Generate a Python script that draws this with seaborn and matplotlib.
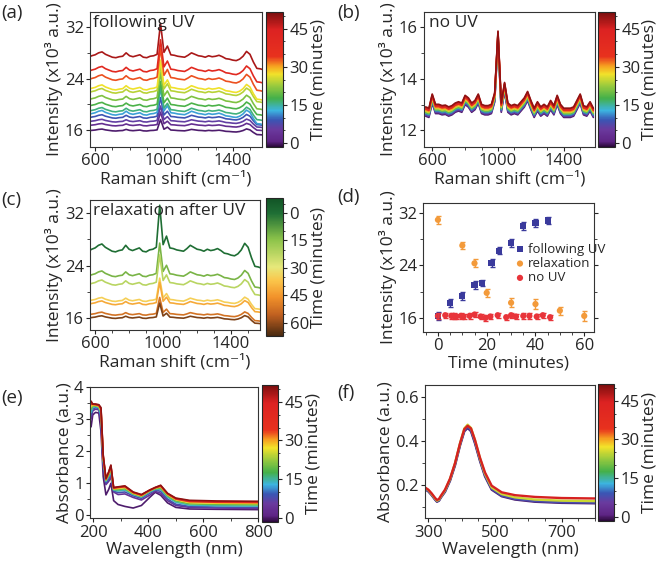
import numpy as np
import pandas as pd
import matplotlib
matplotlib.use('Agg')
import matplotlib.pyplot as plt
import seaborn as sns
from matplotlib.colors import LinearSegmentedColormap, Normalize
from matplotlib.cm import ScalarMappable
from matplotlib.ticker import MultipleLocator

sns.set_style('ticks')
plt.rcParams['font.family'] = ['Open Sans', 'DejaVu Sans']
plt.rcParams['font.size'] = 12
plt.rcParams['axes.linewidth'] = 0.8

# ---------------- dados ----------------
raman_wn = np.arange(560, 1600, 20)

# forma do espectro (a)/(c), relativa a linha de base
perfil_a = [0.0, 0.3, 0.5, 0.9, 1.1, 0.6, 0.3, 0.0, -0.1, 0.1,
            0.2, 0.9, 0.3, 0.1, 0.3, 0.5, 0.0, -0.1, 0.2, 0.3,
            0.6, 7.0, 1.0, 2.3, 0.5, 0.4, 0.2, 0.1, 0.0, 0.4,
            0.9, 0.6, 0.3, 0.2, 0.0, 0.3, 0.1, 0.2, 0.4, 0.1,
            -0.3, -0.4, -0.6, -0.7, -0.4, 0.2, 1.2, 0.6, -1.0, -2.3,
            -2.4, -2.6]
# forma do espectro (b)
perfil_b = [0.25, 0.2, 0.75, 0.35, 0.35, 0.3, 0.32, 0.25, 0.3, 0.4,
            0.45, 0.4, 0.7, 0.6, 0.4, 0.5, 0.75, 0.35, 0.3, 0.3,
            0.35, 0.8, 3.2, 0.4, 1.2, 0.4, 0.3, 0.35, 0.3, 0.45,
            0.6, 0.85, 0.5, 0.2, 0.45, 0.25, 0.35, 0.25, 0.5, 0.3,
            0.7, 0.35, 0.2, 0.2, 0.2, 0.25, 0.5, 0.75, 0.3, 0.25,
            0.45, 0.2]

tempo_a = [0, 3, 6, 9, 12, 16, 18, 21, 24, 27, 33, 40, 48]
base_a = [15.9, 16.7, 17.3, 17.9, 18.4, 18.9, 19.7, 20.7, 21.8, 22.3, 23.8, 25.1, 27.3]
escala_a = [0.25, 0.3, 0.35, 0.45, 0.6, 0.55, 0.55, 0.6, 0.6, 0.65, 0.7, 0.7, 0.75]

tempo_b = [0, 5, 10, 15, 20, 25, 30, 35, 40, 45, 50]
base_b = [12.30, 12.34, 12.38, 12.42, 12.45, 12.49, 12.53, 12.57, 12.60, 12.63, 12.66]

tempo_c = [0, 12, 22, 35, 42, 52, 62]
base_c = [26.2, 22.4, 21.1, 18.6, 18.1, 16.5, 16.0]
escala_c = [1.0, 0.72, 0.65, 0.5, 0.48, 0.38, 0.33]

# (d) intensidade do pico
t_uv = [0, 5, 10, 15, 18, 22, 25, 30, 35, 40, 45]
i_uv = [16.3, 18.3, 19.3, 21.0, 21.3, 24.3, 26.2, 27.4, 29.9, 30.4, 30.8]
e_uv = [0.6, 0.6, 0.6, 0.6, 0.5, 0.6, 0.5, 0.6, 0.6, 0.6, 0.6]
t_rel = [0, 10, 15, 20, 30, 40, 50, 60]
i_rel = [30.9, 27.0, 24.3, 19.8, 18.3, 18.1, 17.1, 16.3]
e_rel = [0.6, 0.6, 0.6, 0.6, 0.7, 0.7, 0.6, 0.7]
t_no = [0, 3, 5.5, 6.5, 7.5, 9.5, 10.5, 13, 15, 17.5, 19.5, 21.5, 24.5, 28, 30, 32, 35, 37.5, 40.5, 43, 46]
i_no = [16.3, 16.4, 16.3, 16.3, 16.2, 16.3, 16.2, 16.3, 16.5, 16.2, 16.0, 16.2, 16.4, 16.1, 16.4, 16.2, 16.3, 16.3, 16.2, 16.4, 16.1]
e_no = [0.4] * len(t_no)

# (e) UV-vis
wl_e = [192, 198, 208, 220, 228, 236, 246, 256, 264, 274, 290, 315, 345, 375, 405, 425, 445, 470, 500, 550, 650, 800]
tempo_e = [0, 4, 8, 14, 20, 28, 34, 42, 50]
abs_e = [
    [2.75, 3.12, 3.2, 3.18, 2.6, 1.2, 0.63, 0.8, 0.99, 0.45, 0.33, 0.27, 0.22, 0.3, 0.55, 0.71, 0.62, 0.38, 0.24, 0.19, 0.18, 0.17],
    [3.0, 3.25, 3.3, 3.28, 2.9, 1.5, 0.95, 1.05, 1.18, 0.72, 0.64, 0.66, 0.55, 0.47, 0.62, 0.74, 0.68, 0.45, 0.3, 0.24, 0.22, 0.21],
    [3.1, 3.3, 3.35, 3.32, 3.0, 1.6, 1.0, 1.12, 1.28, 0.75, 0.7, 0.72, 0.6, 0.52, 0.68, 0.78, 0.74, 0.5, 0.34, 0.27, 0.25, 0.24],
    [3.2, 3.35, 3.38, 3.35, 3.1, 1.7, 1.05, 1.2, 1.35, 0.78, 0.75, 0.78, 0.64, 0.56, 0.72, 0.8, 0.8, 0.56, 0.4, 0.31, 0.29, 0.28],
    [3.3, 3.4, 3.4, 3.38, 3.2, 1.75, 1.08, 1.25, 1.42, 0.8, 0.79, 0.82, 0.66, 0.58, 0.75, 0.82, 0.84, 0.6, 0.44, 0.35, 0.33, 0.32],
    [3.38, 3.43, 3.42, 3.4, 3.25, 1.8, 1.1, 1.3, 1.48, 0.82, 0.83, 0.86, 0.68, 0.6, 0.76, 0.84, 0.88, 0.64, 0.48, 0.39, 0.37, 0.36],
    [3.45, 3.45, 3.44, 3.42, 3.3, 1.82, 1.12, 1.32, 1.52, 0.84, 0.86, 0.88, 0.7, 0.62, 0.77, 0.85, 0.9, 0.66, 0.5, 0.42, 0.40, 0.39],
    [3.5, 3.46, 3.45, 3.43, 3.32, 1.85, 1.13, 1.33, 1.54, 0.85, 0.87, 0.9, 0.71, 0.63, 0.78, 0.86, 0.92, 0.67, 0.52, 0.44, 0.42, 0.41],
    [3.55, 3.46, 3.46, 3.44, 3.35, 1.88, 1.14, 1.35, 1.56, 0.86, 0.88, 0.91, 0.72, 0.64, 0.78, 0.86, 0.93, 0.68, 0.53, 0.46, 0.44, 0.43],
]

# (f) UV-vis sem UV
wl_f = [290, 300, 310, 320, 326, 332, 338, 350, 365, 380, 395, 408, 418, 428, 440, 455, 470, 490, 520, 560, 620, 700, 800]
tempo_f = [0, 8, 25, 45]
abs_f = [
    [0.182, 0.172, 0.155, 0.135, 0.125, 0.13, 0.145, 0.17, 0.22, 0.29, 0.38, 0.445, 0.46, 0.445, 0.39, 0.31, 0.24, 0.18, 0.15, 0.135, 0.125, 0.12, 0.118],
    [0.184, 0.174, 0.157, 0.137, 0.127, 0.132, 0.147, 0.173, 0.224, 0.295, 0.385, 0.45, 0.466, 0.45, 0.395, 0.315, 0.245, 0.184, 0.153, 0.138, 0.128, 0.123, 0.121],
    [0.188, 0.178, 0.16, 0.14, 0.13, 0.135, 0.15, 0.177, 0.228, 0.3, 0.39, 0.458, 0.475, 0.46, 0.405, 0.322, 0.252, 0.19, 0.16, 0.145, 0.135, 0.13, 0.128],
    [0.19, 0.18, 0.163, 0.143, 0.133, 0.138, 0.153, 0.18, 0.23, 0.3, 0.39, 0.455, 0.47, 0.458, 0.405, 0.325, 0.258, 0.198, 0.168, 0.155, 0.147, 0.142, 0.14],
]

# ---------------- cores ----------------
arco_iris = LinearSegmentedColormap.from_list('arco', [
    (0.0, '#2c0a3c'), (0.04, '#5e2484'), (0.13, '#6a3a9e'), (0.2, '#3a56b4'),
    (0.27, '#3cb4e0'), (0.36, '#44b04a'), (0.46, '#a0cc3c'), (0.54, '#f2e22a'),
    (0.6, '#f6a020'), (0.67, '#e8321e'), (0.87, '#dc2222'), (1.0, '#7a0e0e')])
verde_marrom = LinearSegmentedColormap.from_list('vm', [
    (0.0, '#125426'), (0.11, '#1f6f35'), (0.3, '#8cc34a'), (0.5, '#e6e87a'),
    (0.6, '#fbc54a'), (0.72, '#f2922a'), (0.85, '#c06020'), (1.0, '#4a2a10')])
norma_rb = Normalize(-1.5, 51.5)
norma_vm = Normalize(-8, 67)

TAM_TICK = 12
TAM_ROT = 12.5


def tabela_raman(tempos, bases, escalas, perfil):
    linhas = []
    for t, b, s in zip(tempos, bases, escalas):
        for w, p in zip(raman_wn, perfil):
            linhas.append((w, b + s * p, t))
    return pd.DataFrame(linhas, columns=['wn', 'I', 't'])


def tabela_abs(wl, tempos, valores):
    linhas = []
    for t, v in zip(tempos, valores):
        for w, a in zip(wl, v):
            linhas.append((w, a, t))
    return pd.DataFrame(linhas, columns=['wl', 'A', 't'])


def ajeitar(ax, xmaj, xmin, ymaj, ymin, xoff=0):
    ax.xaxis.set_major_locator(MultipleLocator(xmaj, offset=xoff))
    ax.xaxis.set_minor_locator(MultipleLocator(xmin))
    ax.yaxis.set_major_locator(MultipleLocator(ymaj))
    ax.yaxis.set_minor_locator(MultipleLocator(ymin))
    ax.tick_params(which='major', length=3, width=0.8, labelsize=TAM_TICK, pad=1.5)
    ax.tick_params(which='minor', length=2, width=0.6)
    for s in ax.spines.values():
        s.set_visible(True)
        s.set_color('#333333')


def barra(fig, pos, cmap, norma, ticks, inverter=False):
    cax = fig.add_axes(pos)
    sm = ScalarMappable(norm=norma, cmap=cmap)
    cb = fig.colorbar(sm, cax=cax, ticks=ticks)
    cb.outline.set_linewidth(0.8)
    cax.yaxis.set_minor_locator(MultipleLocator(5))
    cax.tick_params(which='major', length=3, labelsize=TAM_TICK, pad=1.5)
    cax.tick_params(which='minor', length=1.5)
    if inverter:
        cax.invert_yaxis()
    cb.set_label('Time (minutes)', fontsize=TAM_ROT, labelpad=1)
    return cb


W, H = 660, 569


def pos(l, t, r, b):
    return [l / W, 1 - b / H, (r - l) / W, (b - t) / H]


fig = plt.figure(figsize=(6.6, 5.69), dpi=100)

rotulo_y = 'Intensity (x10³ a.u.)'
rotulo_raman = 'Raman shift (cm⁻¹)'

# (a)
ax = fig.add_axes(pos(90, 12, 262, 147))
df_a = tabela_raman(tempo_a, base_a, escala_a, perfil_a)
sns.lineplot(data=df_a, x='wn', y='I', hue='t', palette=arco_iris, hue_norm=norma_rb,
             estimator=None, errorbar=None, legend=False, lw=1.2, ax=ax)
ax.set_xlim(570, 1570)
ax.set_ylim(13.4, 34.3)
ajeitar(ax, 400, 100, 8, 4, xoff=200)
ax.set_xlabel(rotulo_raman, labelpad=1, fontsize=TAM_ROT)
ax.set_ylabel(rotulo_y, labelpad=1, fontsize=TAM_ROT)
ax.text(0.02, 0.98, 'following UV', transform=ax.transAxes, va='top', fontsize=TAM_ROT)
barra(fig, pos(265.5, 12, 283.3, 147), arco_iris, norma_rb, [0, 15, 30, 45])

# (b)
ax = fig.add_axes(pos(424, 12, 595, 147))
df_b = tabela_raman(tempo_b, base_b, [1.0] * len(tempo_b), perfil_b)
sns.lineplot(data=df_b, x='wn', y='I', hue='t', palette=arco_iris, hue_norm=norma_rb,
             estimator=None, errorbar=None, legend=False, lw=1.2, ax=ax)
ax.set_xlim(550, 1590)
ax.set_ylim(11.35, 16.6)
ajeitar(ax, 400, 100, 2, 1, xoff=200)
ax.set_xlabel(rotulo_raman, labelpad=1, fontsize=TAM_ROT)
ax.set_ylabel(rotulo_y, labelpad=1, fontsize=TAM_ROT)
ax.text(0.03, 0.98, 'no UV', transform=ax.transAxes, va='top', fontsize=TAM_ROT)
barra(fig, pos(598.3, 12, 615, 147), arco_iris, norma_rb, [0, 15, 30, 45])

# (c)
ax = fig.add_axes(pos(90, 200, 260, 330))
df_c = tabela_raman(tempo_c, base_c, escala_c, perfil_a)
sns.lineplot(data=df_c, x='wn', y='I', hue='t', palette=verde_marrom, hue_norm=norma_vm,
             estimator=None, errorbar=None, legend=False, lw=1.2, ax=ax)
ax.set_xlim(570, 1570)
ax.set_ylim(14.2, 34.0)
ajeitar(ax, 400, 100, 8, 4, xoff=200)
ax.set_xlabel(rotulo_raman, labelpad=1, fontsize=TAM_ROT)
ax.set_ylabel(rotulo_y, labelpad=1, fontsize=TAM_ROT)
ax.text(0.02, 0.98, 'relaxation after UV', transform=ax.transAxes, va='top', fontsize=TAM_ROT)
barra(fig, pos(265.7, 198.3, 283.3, 335.7), verde_marrom, norma_vm, [0, 15, 30, 45, 60], inverter=True)

# (d)
ax = fig.add_axes(pos(423.3, 202.7, 594, 331.7))
series = [(t_uv, i_uv, e_uv, '#3a3a9c', 's', 'following UV'),
          (t_rel, i_rel, e_rel, '#f39a3a', 'o', 'relaxation'),
          (t_no, i_no, e_no, '#e8343a', 'o', 'no UV')]
for tx, iy, ey, cor, mk, nome in series:
    ax.errorbar(tx, iy, yerr=ey, fmt='none', ecolor=cor, elinewidth=1.0, capsize=1.8, capthick=1.0)
    sns.scatterplot(x=tx, y=iy, color=cor, marker=mk, s=20, edgecolor='none', label=nome, ax=ax)
ax.set_xlim(-6, 64)
ax.set_ylim(13.9, 33.5)
ajeitar(ax, 20, 5, 8, 4)
ax.tick_params(which='both', right=True)
ax.set_xlabel('Time (minutes)', labelpad=1, fontsize=TAM_ROT)
ax.set_ylabel(rotulo_y, labelpad=1, fontsize=TAM_ROT)
ax.legend(loc='upper left', bbox_to_anchor=(0.52, 0.69), frameon=False, fontsize=9.5,
          handletextpad=0.0, borderaxespad=0, labelspacing=0.1, handlelength=1.2, borderpad=0)

# (e)
ax = fig.add_axes(pos(90, 386.7, 258.3, 518.3))
df_e = tabela_abs(wl_e, tempo_e, abs_e)
sns.lineplot(data=df_e, x='wl', y='A', hue='t', palette=arco_iris, hue_norm=norma_rb,
             estimator=None, errorbar=None, legend=False, lw=1.2, ax=ax)
ax.set_xlim(188, 800)
ax.set_ylim(-0.1, 4.0)
ajeitar(ax, 200, 100, 1, 0.5)
ax.set_xlabel('Wavelength (nm)', labelpad=1, fontsize=TAM_ROT)
ax.set_ylabel('Absorbance (a.u.)', labelpad=1, fontsize=TAM_ROT)
barra(fig, pos(261.7, 385, 278.3, 521.7), arco_iris, norma_rb, [0, 15, 30, 45])

# (f)
ax = fig.add_axes(pos(425, 385, 595, 518.3))
df_f = tabela_abs(wl_f, tempo_f, abs_f)
sns.lineplot(data=df_f, x='wl', y='A', hue='t', palette=arco_iris, hue_norm=norma_rb,
             estimator=None, errorbar=None, legend=False, lw=1.7, ax=ax)
ax.set_xlim(290, 800)
ax.set_ylim(0.05, 0.655)
ajeitar(ax, 200, 50, 0.2, 0.1, xoff=100)
ax.set_xlabel('Wavelength (nm)', labelpad=1, fontsize=TAM_ROT)
ax.set_ylabel('Absorbance (a.u.)', labelpad=1, fontsize=TAM_ROT)
barra(fig, pos(598.3, 384, 614.3, 520.7), arco_iris, norma_rb, [0, 15, 30, 45])

# letras dos paineis
for letra, x, y in [('(a)', 1, 13), ('(b)', 337, 13), ('(c)', 1, 200),
                    ('(d)', 337, 197), ('(e)', 1, 398), ('(f)', 337, 393)]:
    fig.text(x / W, 1 - y / H, letra, fontsize=13.5, va='center', ha='left')

fig.savefig('out.png', dpi=100)
